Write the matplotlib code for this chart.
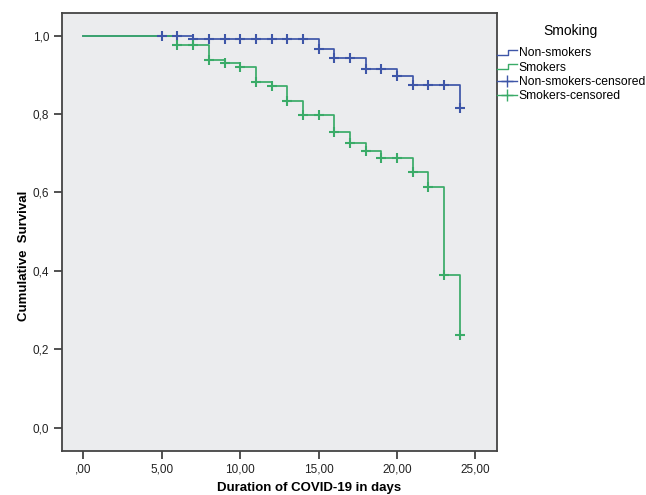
import matplotlib
matplotlib.use("Agg")
import matplotlib.pyplot as plt
from matplotlib.lines import Line2D
from matplotlib.legend_handler import HandlerBase

plt.rcParams['font.family'] = ['Liberation Sans', 'DejaVu Sans']

# Kaplan-Meier step data (time in days, cumulative survival after step)
ns_times = [0, 7, 15, 16, 18, 20, 21, 24]
ns_surv = [1.0, 0.992, 0.965, 0.942, 0.914, 0.898, 0.873, 0.815]
ns_cens_times = [5, 6, 7, 8, 9, 10, 11, 12, 13, 14, 15, 16, 17, 18, 19, 20, 21, 22, 23, 24]

s_times = [0, 6, 8, 9, 10, 11, 12, 13, 14, 16, 17, 18, 19, 21, 22, 23, 24]
s_surv = [1.0, 0.976, 0.938, 0.930, 0.921, 0.881, 0.872, 0.834, 0.798,
          0.755, 0.726, 0.707, 0.688, 0.653, 0.614, 0.390, 0.235]
s_cens_times = [6, 7, 8, 9, 10, 11, 12, 13, 14, 15, 16, 17, 18, 19, 20, 21, 22, 23, 24]

x_ticks = [0, 5, 10, 15, 20, 25]
x_ticklabels = [',00', '5,00', '10,00', '15,00', '20,00', '25,00']
y_ticks = [0.0, 0.2, 0.4, 0.6, 0.8, 1.0]
y_ticklabels = ['0,0', '0,2', '0,4', '0,6', '0,8', '1,0']

labels = ['Non-smokers', 'Smokers', 'Non-smokers-censored', 'Smokers-censored']
blue = '#3e56a8'
green = '#3aab68'


def surv_at(times, surv, t):
    val = surv[0]
    for tt, ss in zip(times, surv):
        if tt <= t:
            val = ss
    return val


fig = plt.figure(figsize=(6.46, 4.95), dpi=100)
ax = fig.add_axes([0.0955, 0.0895, 0.6745, 0.8835])
ax.set_facecolor('#ebecee')

ax.step(ns_times, ns_surv, where='post', color=blue, lw=1.25, zorder=2)
ax.step(s_times, s_surv, where='post', color=green, lw=1.25, zorder=3)
ax.plot(ns_cens_times, [surv_at(ns_times, ns_surv, t) for t in ns_cens_times],
        ls='none', marker='+', ms=7, mew=1.5, color=blue, zorder=4)
ax.plot(s_cens_times, [surv_at(s_times, s_surv, t) for t in s_cens_times],
        ls='none', marker='+', ms=7, mew=1.5, color=green, zorder=5)

ax.set_xlim(-1.38, 26.4)
ax.set_ylim(-0.059, 1.057)
ax.set_xticks(x_ticks)
ax.set_xticklabels(x_ticklabels)
ax.set_yticks(y_ticks)
ax.set_yticklabels(y_ticklabels)
ax.tick_params(direction='out', length=6, width=1.2, color='#333333',
               labelsize=8.5, labelcolor='#222222', pad=3)
for sp in ax.spines.values():
    sp.set_color('#444444')
    sp.set_linewidth(1.3)

ax.set_xlabel('Duration of COVID-19 in days', fontsize=9.5, fontweight='bold')
ax.xaxis.set_label_coords(0.568, -0.071)
ax.set_ylabel('Cumulative  Survival', fontsize=9.5, fontweight='bold')
ax.yaxis.set_label_coords(-0.073, 0.445)


class StepHandler(HandlerBase):
    def create_artists(self, legend, orig_handle, xdescent, ydescent,
                       width, height, fontsize, trans):
        x0 = -xdescent
        y0 = -ydescent
        xs = [x0, x0 + width * 0.55, x0 + width * 0.55, x0 + width]
        ys = [y0 + height * 0.15, y0 + height * 0.15, y0 + height * 0.8, y0 + height * 0.8]
        ln = Line2D(xs, ys, color=orig_handle.get_color(), lw=1.0, transform=trans)
        return [ln]


h_ns = Line2D([], [], color=blue)
h_s = Line2D([], [], color=green)
h_nsc = Line2D([], [], color=blue, marker='+', ls='-', lw=1.0, ms=9, mew=1.0)
h_sc = Line2D([], [], color=green, marker='+', ls='-', lw=1.0, ms=9, mew=1.0)

leg = fig.legend([h_ns, h_s, h_nsc, h_sc], labels, loc='upper left',
                 bbox_to_anchor=(0.769, 0.952), frameon=False,
                 title='Smoking', title_fontsize=10, fontsize=8.7,
                 handlelength=1.7, handletextpad=0.1, borderpad=0,
                 labelspacing=0.18, borderaxespad=0, numpoints=1,
                 handler_map={h_ns: StepHandler(), h_s: StepHandler()})
leg._legend_box.sep = 7

fig.savefig('out.png', dpi=100)
